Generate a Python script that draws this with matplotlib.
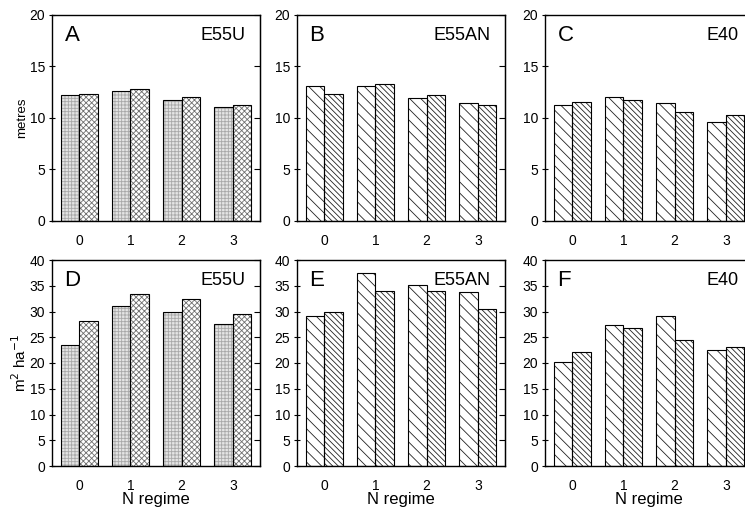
import numpy as np
import matplotlib.pyplot as plt

plt.rcParams['font.family'] = ['Liberation Sans', 'DejaVu Sans']
plt.rcParams['hatch.linewidth'] = 0.6

# N regime categories
regimes = [0, 1, 2, 3]

# height (metres), two bars per regime
a_first = [12.2, 12.6, 11.7, 11.1]
a_second = [12.3, 12.8, 12.0, 11.3]
b_first = [13.1, 13.1, 11.9, 11.5]
b_second = [12.3, 13.3, 12.2, 11.3]
c_first = [11.3, 12.0, 11.5, 9.6]
c_second = [11.6, 11.7, 10.6, 10.3]

# basal area (m2 ha-1)
d_first = [23.5, 31.1, 29.9, 27.6]
d_second = [28.2, 33.4, 32.4, 29.6]
e_first = [29.1, 37.5, 35.1, 33.8]
e_second = [30.0, 34.0, 34.0, 30.4]
f_first = [20.1, 27.4, 29.1, 22.5]
f_second = [22.1, 26.8, 24.5, 23.1]

letters = ['A', 'B', 'C', 'D', 'E', 'F']
sites = ['E55U', 'E55AN', 'E40', 'E55U', 'E55AN', 'E40']

panels = [(a_first, a_second), (b_first, b_second), (c_first, c_second),
          (d_first, d_second), (e_first, e_second), (f_first, f_second)]

fig = plt.figure(figsize=(7.45, 5.07), dpi=100)

lefts = [52, 297, 545]
w = 208 / 745
h = 206 / 507
bottoms = [1 - 221 / 507, 1 - 466 / 507]

x = np.arange(len(regimes))
bw = 0.36

for i, (first, second) in enumerate(panels):
    row, col = divmod(i, 3)
    ax = fig.add_axes([lefts[col] / 745, bottoms[row], w, h])
    if col == 0:
        # fine gray mesh / dotted cross pattern
        ax.bar(x - bw / 2, first, bw, color='#e4e4e4', edgecolor='#a8a8a8', hatch='+++++', lw=0)
        ax.bar(x + bw / 2, second, bw, color='white', edgecolor='#707070', hatch='xxxxxx', lw=0)
    else:
        ax.bar(x - bw / 2, first, bw, color='white', edgecolor='#222222', hatch='\\\\\\', lw=0)
        ax.bar(x + bw / 2, second, bw, color='white', edgecolor='#222222', hatch='\\\\\\\\\\\\', lw=0)
    ax.bar(x - bw / 2, first, bw, fill=False, edgecolor='black', lw=0.8)
    ax.bar(x + bw / 2, second, bw, fill=False, edgecolor='black', lw=0.8)

    ax.set_xlim(-0.53, 3.53)
    if row == 0:
        ax.set_ylim(0, 20)
        yt = [0, 5, 10, 15, 20]
    else:
        ax.set_ylim(0, 40)
        yt = list(range(0, 41, 5))
    ax.set_yticks(yt)
    ax.set_xticks(x)
    ax.set_xticklabels([str(r) for r in regimes])
    ax.tick_params(axis='y', direction='inout', length=5, width=0.8,
                   labelsize=10, pad=2.5)
    ax.tick_params(axis='x', bottom=False, labelsize=10, pad=6)
    # inward ticks on the right spine
    sec = ax.secondary_yaxis('right')
    sec.set_yticks(yt)
    sec.tick_params(direction='in', length=4, width=0.8, labelright=False)
    for s in ax.spines.values():
        s.set_linewidth(1.0)

    ax.text(0.06, 0.95, letters[i], transform=ax.transAxes, fontsize=16,
            ha='left', va='top')
    ax.text(0.93, 0.94, sites[i], transform=ax.transAxes, fontsize=13,
            ha='right', va='top')

    if col == 0:
        if row == 0:
            ax.set_ylabel('metres', fontsize=9.5, labelpad=1)
        else:
            ax.set_ylabel('m$^2$ ha$^{-1}$', fontsize=11, labelpad=0)
    if row == 1:
        ax.set_xlabel('N regime', fontsize=12, labelpad=-1)

fig.savefig('out.png', dpi=100)
